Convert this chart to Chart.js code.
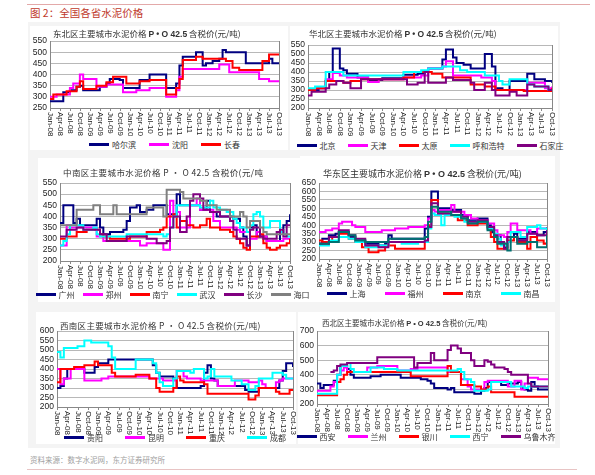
<!DOCTYPE html>
<html>
<head>
<meta charset="utf-8">
<script src="https://cdn.jsdelivr.net/npm/chart.js@4.4.0/dist/chart.umd.min.js"></script>
<style>
  body { margin: 0; width: 595px; height: 475px; background: #fff; position: relative; overflow: hidden;
         font-family: "Noto Sans CJK SC", "Liberation Sans", sans-serif; }
  .topline { position: absolute; left: 27px; top: 4px; width: 563px; height: 1px; background: #e3a9a9; }
  .bottomline { position: absolute; left: 27px; top: 469px; width: 550px; height: 1px; background: #e8c4c4; }
  .fig-title { position: absolute; left: 30px; top: 6px; font-size: 10.5px; color: #c0392b; line-height: 14px; }
  .source { position: absolute; left: 30px; top: 454px; font-size: 7.5px; color: #a0a0a0; line-height: 12px; }
  .shade { position: absolute; left: 28px; top: 22px; width: 532px; height: 426px; background: #f4f4f4; }
  .panel { position: absolute; background: #fff; }
  canvas { position: absolute; }
  .ptitle { position: absolute; color: #333; white-space: nowrap; line-height: 12px; }
  .ptitle b { font-family: "Liberation Sans", Arial, sans-serif; font-weight: bold; }
  .legend { position: absolute; display: flex; justify-content: center; align-items: center; height: 12px;
            font-size: 8px; color: #333; white-space: nowrap; }
  .legend .item { display: flex; align-items: center; }
  .legend .line { display: inline-block; width: 20px; height: 3px; margin-right: 3px; }
</style>
</head>
<body>
<div class="topline"></div>
<div class="fig-title">图 2：全国各省水泥价格</div>
<div class="shade"></div>
<div class="panel" style="left:30px;top:26px;width:258px;height:124px"></div>
<div class="panel" style="left:290px;top:26px;width:268px;height:124px"></div>
<div class="panel" style="left:38px;top:158px;width:262px;height:144px"></div>
<div class="panel" style="left:300px;top:156px;width:255px;height:146px"></div>
<div class="panel" style="left:36px;top:312px;width:260px;height:132px"></div>
<div class="panel" style="left:298px;top:312px;width:257px;height:132px"></div>

<canvas id="c1" width="258" height="110" style="left:30px;top:26px"></canvas>
<canvas id="c2" width="270" height="110" style="left:288px;top:26px"></canvas>
<canvas id="c3" width="260" height="129" style="left:40px;top:160px"></canvas>
<canvas id="c4" width="253" height="131" style="left:300px;top:156px"></canvas>
<canvas id="c5" width="258" height="123" style="left:38px;top:312px"></canvas>
<canvas id="c6" width="257" height="120" style="left:296px;top:312px"></canvas>

<div class="ptitle" style="left:53px;top:27px;font-size:8.5px">东北区主要城市水泥价格 <b>P • O 42.5</b> 含税价(元/吨)</div>
<div class="ptitle" style="left:309px;top:27px;font-size:8.5px">华北区主要城市水泥价格 <b>P • O 42.5</b> 含税价(元/吨)</div>
<div class="ptitle" style="left:63px;top:166px;font-size:8.5px;letter-spacing:0.4px">中南区主要城市水泥价格 P • O 42.5 含税价(元/吨</div>
<div class="ptitle" style="left:323px;top:168px;font-size:9px">华东区主要城市水泥价格 <b>P • O 42.5</b> 含税价(元/吨)</div>
<div class="ptitle" style="left:60px;top:319px;font-size:8.5px;letter-spacing:0.3px">西南区主要城市水泥价格 P • O 42.5 含税价(元/吨)</div>
<div class="ptitle" style="left:322px;top:317px;font-size:7.5px">西北区主要城市水泥价格 <b>P • O 42.5</b> 含税价(元/吨)</div>

<div class="legend" id="l1" style="left:50px;top:138px;width:229px"></div>
<div class="legend" id="l2" style="left:308px;top:139px;width:244px"></div>
<div class="legend" id="l3" style="left:45px;top:288px;width:255px"></div>
<div class="legend" id="l4" style="left:319px;top:287px;width:228px"></div>
<div class="legend" id="l5" style="left:57px;top:431px;width:236px"></div>
<div class="legend" id="l6" style="left:300px;top:430px;width:252px"></div>

<div class="source">资料来源：数字水泥网，东方证券研究所</div>
<div class="bottomline"></div>

<script>
const months = [
  'Jan-08','Feb-08','Mar-08','Apr-08','May-08','Jun-08','Jul-08','Aug-08','Sep-08','Oct-08','Nov-08','Dec-08',
  'Jan-09','Feb-09','Mar-09','Apr-09','May-09','Jun-09','Jul-09','Aug-09','Sep-09','Oct-09','Nov-09','Dec-09',
  'Jan-10','Feb-10','Mar-10','Apr-10','May-10','Jun-10','Jul-10','Aug-10','Sep-10','Oct-10','Nov-10','Dec-10',
  'Jan-11','Feb-11','Mar-11','Apr-11','May-11','Jun-11','Jul-11','Aug-11','Sep-11','Oct-11','Nov-11','Dec-11',
  'Jan-12','Feb-12','Mar-12','Apr-12','May-12','Jun-12','Jul-12','Aug-12','Sep-12','Oct-12','Nov-12','Dec-12',
  'Jan-13','Feb-13','Mar-13','Apr-13','May-13','Jun-13','Jul-13','Aug-13','Sep-13','Oct-13'
];

// 东北
const harbin = [280,280,280,280,320,320,330,330,345,350,330,330, 330,330,330,345,345,360,380,380,380,375,340,340,
  340,340,340,375,375,375,400,400,400,400,400,340, 340,340,360,440,480,480,480,480,500,500,440,450,
  450,460,460,470,510,500,500,500,500,500,500,450, 450,450,450,450,450,450,470,450,450,450];
const shenyang = [300,300,310,310,310,310,340,360,360,400,380,380, 380,380,345,345,345,355,355,355,355,355,320,320,
  320,320,330,330,330,330,340,340,340,340,340,300, 300,300,330,390,425,425,425,425,425,425,425,425,
  425,425,425,445,445,445,410,410,410,410,410,410, 410,410,410,380,380,380,370,370,370,370];
const changchun = [290,310,310,310,310,325,325,325,345,370,335,335, 335,335,350,350,350,365,365,390,390,390,390,360,
  360,360,360,370,370,370,375,375,375,375,375,310, 310,310,340,380,465,465,465,465,480,480,470,470,
  470,470,470,470,470,460,460,430,430,420,420,420, 420,420,420,420,460,460,490,490,490,490];

// 华北
const beijing = [300,300,300,310,310,350,400,530,530,420,410,390, 390,390,370,370,370,355,355,355,355,365,365,365,
  365,365,365,385,385,385,385,390,390,400,420,420, 420,420,470,525,525,480,450,450,440,440,420,420,
  420,420,500,500,430,310,310,300,300,350,350,350, 350,350,390,390,360,360,360,350,350,340];
const tianjin = [300,300,310,310,310,360,360,395,395,380,380,370, 370,370,370,370,370,345,345,345,360,360,360,360,
  360,360,360,370,370,370,370,370,380,380,420,420, 420,420,430,460,460,380,380,380,380,380,380,380,
  380,370,370,370,350,300,300,300,300,300,300,300, 300,300,340,340,340,340,340,310,310,320];
const taiyuan = [300,300,310,310,310,350,350,350,350,350,340,340, 350,350,350,360,360,360,360,360,360,360,360,360,
  360,360,360,370,370,370,400,400,400,400,400,390, 390,390,370,370,370,370,370,370,370,370,330,330,
  330,330,320,320,320,300,300,300,300,300,300,300, 300,295,295,295,295,295,295,295,295,310];
const huhehaote = [310,310,320,320,320,400,400,400,400,400,380,380, 380,380,380,380,380,380,380,380,380,380,380,380,
  380,380,380,400,400,400,400,400,410,410,420,420, 420,420,430,430,430,430,430,410,410,400,400,400,
  400,400,380,380,380,380,350,330,330,360,360,360, 360,360,330,330,320,320,320,320,300,300];
const shijiazhuang = [270,290,290,290,290,310,330,330,350,350,340,340, 310,310,310,360,360,360,360,360,360,360,360,360,
  360,360,360,360,330,330,330,340,340,400,340,340, 340,340,340,370,370,355,355,355,355,355,340,300,
  300,300,340,340,300,270,270,270,270,290,290,270, 270,270,330,330,320,320,320,320,300,300];

// 中南
const guangzhou = [370,450,450,450,370,390,360,360,360,360,360,390, 350,320,320,330,330,330,330,340,380,440,440,450,
  420,420,430,430,450,450,450,450,410,410,410,500, 450,450,450,450,450,450,430,430,470,420,420,400,
  400,400,400,400,390,390,350,310,270,350,360,310, 310,310,290,290,290,290,330,360,380,410];
const zhengzhou = [270,270,360,350,350,350,350,350,350,350,350,310, 310,290,290,290,290,290,290,290,290,290,290,290,
  270,270,280,280,280,280,280,250,250,470,400,420, 350,350,350,450,450,480,430,430,430,430,380,380,
  350,350,350,350,350,340,330,330,330,300,300,330, 310,310,290,290,290,290,290,300,300,300];
const nanning = [300,300,310,310,310,330,330,330,340,340,340,340, 320,310,310,300,300,300,300,300,300,310,310,310,
  310,310,330,330,330,330,340,350,400,400,410,350, 380,380,360,360,350,350,360,360,390,350,350,350,
  340,340,340,330,310,300,280,260,250,310,310,310, 320,280,260,250,250,260,270,270,280,300];
const wuhan = [270,290,320,360,360,360,360,340,340,340,350,320, 310,310,310,310,310,310,310,310,320,320,320,320,
  320,320,320,320,320,320,320,310,320,350,400,450, 450,450,450,450,450,450,440,440,440,470,440,440,
  430,430,420,420,390,370,350,350,330,360,410,420, 400,350,350,380,380,380,330,320,310,310];
const changsha = [310,310,340,340,340,350,350,340,340,340,340,340, 320,320,290,290,290,290,290,290,310,310,310,310,
  310,310,300,300,300,280,280,280,290,350,400,400, 330,330,400,470,500,500,480,430,430,420,420,420,
  400,400,400,380,340,300,300,300,270,340,350,350, 310,300,300,300,300,330,340,310,360,360];
const haikou = [360,360,360,360,360,430,430,430,430,430,450,450, 410,410,410,410,450,410,410,410,410,410,410,410,
  410,410,440,440,440,440,440,400,520,520,520,520, 510,480,480,480,480,480,470,470,450,450,450,430,
  430,430,430,400,400,400,420,400,350,380,380,380, 350,330,320,320,320,320,320,320,320,320];

// 华东
const shanghai = [290,320,320,340,340,350,360,360,360,330,330,310, 310,310,290,290,290,290,280,280,290,340,320,320,
  320,320,320,320,320,320,320,320,380,450,600,600, 500,500,500,500,490,490,490,460,460,430,430,430,
  440,440,440,400,360,340,340,300,270,330,330,350, 320,320,320,360,360,360,340,340,360,390];
const fuzhou = [360,360,370,370,380,380,410,420,420,420,400,390, 390,390,360,360,360,360,360,370,370,370,370,380,
  380,380,380,390,390,390,390,390,400,440,490,480, 490,490,490,490,520,480,480,480,460,460,440,440,
  430,430,430,410,410,370,340,340,330,360,410,410, 370,370,370,370,350,350,380,380,380,360];
const nanjing = [310,300,300,300,330,330,350,350,350,320,320,300, 300,270,270,240,240,240,250,250,280,280,280,260,
  260,260,260,260,260,260,260,260,300,400,550,550, 470,470,470,460,460,460,430,430,430,400,400,400,
  410,410,410,380,330,300,260,260,260,310,310,330, 300,300,300,260,330,330,310,310,290,330];
const nanchang = [280,280,280,310,310,310,330,330,330,320,320,300, 300,300,270,270,270,270,280,280,280,300,300,300,
  300,290,290,290,290,290,300,300,300,380,470,460, 460,400,460,460,460,450,450,450,420,420,420,420,
  420,420,420,380,380,350,320,280,280,300,360,360, 360,330,330,390,390,390,400,380,380,370];
const eastPurple = [290,290,290,330,330,330,370,370,370,340,340,320, 320,320,280,280,280,280,270,270,270,300,300,300,
  300,300,300,300,300,300,300,300,310,390,530,530, 470,470,470,470,480,480,480,450,450,420,420,420,
  430,430,430,390,390,340,300,300,260,330,330,330, 310,310,310,350,350,350,340,340,340,370];
const eastTeal = [290,290,290,300,300,300,360,360,360,340,340,310, 310,310,300,300,300,300,300,300,300,320,320,320,
  320,320,320,320,320,320,320,320,330,420,510,510, 480,480,480,480,460,460,460,440,440,410,410,410,
  420,420,420,370,370,330,290,290,290,250,330,330, 290,290,290,300,300,300,270,270,270,340];

// 西南
const guiyang = [300,310,350,400,400,400,400,400,380,380,380,410, 430,430,430,450,450,450,450,450,450,450,450,450,
  450,450,450,450,420,380,360,360,360,360,350,300, 300,300,300,300,300,300,310,380,420,350,340,310,
  310,310,310,310,310,310,310,290,280,280,280,300, 300,300,300,300,300,340,390,430,430,410];
const kunming = [400,320,350,350,400,400,400,400,340,340,340,340, 340,350,350,360,360,360,360,360,360,360,360,360,
  360,360,360,350,350,350,350,340,340,340,340,390, 390,360,350,350,350,350,340,340,340,340,340,310,
  310,310,310,310,340,340,340,340,330,330,330,340, 320,300,300,300,330,340,350,350,350,350];
const chongqing = [330,400,400,400,400,410,410,410,420,420,420,440, 420,420,420,420,380,360,360,360,360,360,360,370,
  370,370,370,350,350,300,280,280,280,280,300,360, 340,330,330,330,330,330,330,320,270,270,270,270,
  270,270,270,270,270,270,270,270,240,240,260,300, 300,300,300,300,280,270,270,270,290,290];
const chengdu = [490,460,510,510,510,510,520,520,550,550,540,540, 540,540,540,520,460,400,400,400,400,400,400,450,
  450,450,450,450,430,380,330,310,310,310,350,390, 390,390,390,380,400,400,400,350,360,400,360,360,
  360,360,360,340,340,340,320,320,290,290,310,350, 350,350,350,380,380,380,370,350,350,350];

// 西北
const xian = [340,310,330,330,330,360,400,460,460,440,400,380, 380,380,380,380,390,390,390,400,400,400,400,400,
  400,380,380,380,380,380,380,370,370,360,340,310, 310,310,310,300,310,280,280,280,280,280,280,270,
  270,290,310,350,350,350,350,330,330,340,340,340, 350,310,300,290,350,320,300,300,300,300];
const lanzhou = [290,290,290,290,320,350,400,430,450,420,420,420, 420,420,420,450,450,450,460,460,460,460,460,460,
  430,430,430,430,440,440,450,450,450,450,450,450, 450,450,450,420,420,420,420,370,370,320,300,300,
  300,300,350,360,360,360,360,360,360,320,320,360, 360,300,340,380,380,380,370,370,370,370];
const yinchuan = [260,260,260,260,260,260,350,370,400,420,420,420, 420,420,420,420,420,420,420,420,420,420,420,420,
  420,420,420,420,390,390,390,390,390,390,390,390, 390,390,390,460,420,420,420,330,330,330,330,320,
  320,300,300,320,280,280,280,280,280,280,280,250, 250,250,250,250,250,250,250,250,250,250];
const xining = [270,270,270,270,270,270,400,460,460,480,440,420, 420,420,420,420,450,450,450,450,440,440,440,440,
  430,430,430,430,430,430,430,430,430,430,430,430, 430,430,430,430,430,430,440,420,370,370,350,290,
  290,290,290,300,350,350,350,350,350,350,320,320, 320,320,310,320,320,320,320,320,320,320];
const urumqi = [null,null,null,null,420,430,460,470,470,480,480,480, 480,480,480,480,480,480,520,520,520,520,520,520,
  520,520,520,520,520,450,480,480,480,480,550,500, 500,500,500,570,600,600,580,550,550,550,500,460,
  460,460,500,490,470,450,450,450,440,420,400,400, 400,400,400,340,320,320,320,320,320,320];

// rotated month labels, tick marks and the right frame line
const frameAndLabels = {
  id: 'frameAndLabels',
  afterDraw(chart) {
    const { ctx, chartArea, scales } = chart;
    const xs = scales.x;
    ctx.save();
    ctx.strokeStyle = '#888';
    ctx.lineWidth = 1;
    ctx.beginPath();
    ctx.moveTo(Math.round(chartArea.right) + 0.5, chartArea.top);
    ctx.lineTo(Math.round(chartArea.right) + 0.5, chartArea.bottom);
    ctx.stroke();
    ctx.fillStyle = '#222';
    ctx.font = '8px "Liberation Sans", Arial, sans-serif';
    ctx.textAlign = 'left';
    ctx.textBaseline = 'middle';
    months.forEach((m, i) => {
      if (i % 3 !== 0) return;
      const px = Math.round(xs.getPixelForValue(i)) + 0.5;
      ctx.beginPath();
      ctx.moveTo(px, chartArea.bottom);
      ctx.lineTo(px, chartArea.bottom + 3);
      ctx.stroke();
      ctx.save();
      ctx.translate(px, chartArea.bottom + 4);
      ctx.rotate(Math.PI / 2);
      ctx.fillText(m, 0, 0);
      ctx.restore();
    });
    ctx.restore();
  }
};

function drawPanel(canvasId, legendId, series, yMin, yMax, yStep, yWidth, padRight, padTop, legendGap) {
  new Chart(document.getElementById(canvasId), {
    type: 'line',
    data: {
      labels: months,
      datasets: series.map((s, i) => ({
        label: s.label,
        data: s.data,
        borderColor: s.color,
        backgroundColor: s.color,
        borderWidth: 2,
        pointRadius: 0,
        stepped: true,
        fill: false,
        order: -i
      }))
    },
    options: {
      responsive: false,
      animation: false,
      layout: { padding: { left: 0, right: padRight, top: padTop, bottom: 0 } },
      plugins: { legend: { display: false }, tooltip: { enabled: false } },
      scales: {
        x: {
          offset: false,
          grid: { display: false },
          ticks: { display: false },
          border: { display: true, color: '#888' },
          afterFit: (s) => { s.height = 28; }
        },
        y: {
          min: yMin,
          max: yMax,
          ticks: { stepSize: yStep, autoSkip: false, color: '#222', padding: 3,
                   font: { size: 8.5, family: '"Liberation Sans", Arial' } },
          grid: { color: '#b8b8b8', drawTicks: false },
          border: { display: true, color: '#888' },
          afterFit: (s) => { s.width = yWidth; }
        }
      }
    },
    plugins: [frameAndLabels]
  });

  const legend = document.getElementById(legendId);
  legend.style.gap = legendGap + 'px';
  series.filter(s => s.label).forEach(s => {
    const item = document.createElement('span');
    item.className = 'item';
    item.innerHTML = '<span class="line" style="background:' + s.color + '"></span>' + s.label;
    legend.appendChild(item);
  });
}

drawPanel('c1', 'l1', [
  { label: '哈尔滨', data: harbin, color: '#000080' },
  { label: '沈阳', data: shenyang, color: '#ff00ff' },
  { label: '长春', data: changchun, color: '#ff0000' }
], 250, 550, 50, 20, 9, 15, 13);

drawPanel('c2', 'l2', [
  { label: '北京', data: beijing, color: '#000080' },
  { label: '天津', data: tianjin, color: '#ff00ff' },
  { label: '太原', data: taiyuan, color: '#ff0000' },
  { label: '呼和浩特', data: huhehaote, color: '#00ffff' },
  { label: '石家庄', data: shijiazhuang, color: '#800080' }
], 200, 550, 50, 20, 6, 19, 12);

drawPanel('c3', 'l3', [
  { label: '广州', data: guangzhou, color: '#000080' },
  { label: '郑州', data: zhengzhou, color: '#ff00ff' },
  { label: '南宁', data: nanning, color: '#ff0000' },
  { label: '武汉', data: wuhan, color: '#00ffff' },
  { label: '长沙', data: changsha, color: '#800080' },
  { label: '海口', data: haikou, color: '#808080' }
], 200, 550, 50, 20, 10, 23, 8);

drawPanel('c4', 'l4', [
  { label: '上海', data: shanghai, color: '#000080' },
  { label: '福州', data: fuzhou, color: '#ff00ff' },
  { label: '南京', data: nanjing, color: '#ff0000' },
  { label: '南昌', data: nanchang, color: '#00ffff' },
  { label: '', data: eastPurple, color: '#800080' },
  { label: '', data: eastTeal, color: '#007070' }
], 200, 650, 50, 19, 6, 27, 19);

drawPanel('c5', 'l5', [
  { label: '贵阳', data: guiyang, color: '#000080' },
  { label: '昆明', data: kunming, color: '#ff00ff' },
  { label: '重庆', data: chongqing, color: '#ff0000' },
  { label: '成都', data: chengdu, color: '#00ffff' }
], 200, 600, 50, 19, 3, 19, 22);

drawPanel('c6', 'l6', [
  { label: '西安', data: xian, color: '#000080' },
  { label: '兰州', data: lanzhou, color: '#ff00ff' },
  { label: '银川', data: yinchuan, color: '#ff0000' },
  { label: '西宁', data: xining, color: '#00ffff' },
  { label: '乌鲁木齐', data: urumqi, color: '#800080' }
], 200, 700, 100, 21, 5, 19, 12);
</script>
</body>
</html>
